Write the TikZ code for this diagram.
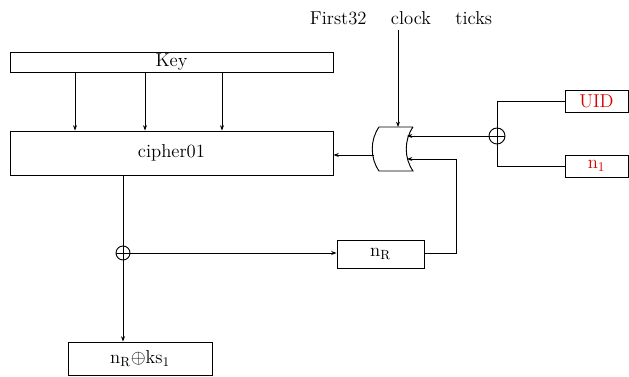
\documentclass[tikz,border=0pt]{standalone}
\usetikzlibrary{arrows.meta,calc}
\begin{document}
\begin{tikzpicture}[x=0.75pt,y=-0.75pt,
  box/.style={draw,line width=0.7pt,inner sep=0pt,font=\fontsize{14}{16}\selectfont},
  arr/.style={line width=0.6pt,-{Stealth[length=4pt,width=3pt]}},
  ln/.style={line width=0.6pt},
  xo/.style={draw,circle,line width=0.7pt,minimum size=#1,inner sep=0pt,
    path picture={\draw[line width=0.7pt] (path picture bounding box.north) -- (path picture bounding box.south)
      (path picture bounding box.west) -- (path picture bounding box.east);}},
  red/.style={text=red!85!black}]
\useasboundingbox (0,0) rectangle (629,377);
% boxes
\node[box,minimum width=323*0.75pt,minimum height=20*0.75pt] (key) at (171.5,62) {Key};
\node[box,minimum width=323*0.75pt,minimum height=44*0.75pt] (cipher) at (171.5,153) {cipher01};
\node[box,minimum width=144*0.75pt,minimum height=33*0.75pt] (out) at (140,358.5) {n$_{\mathrm R}{\oplus}$ks$_1$};
\node[box,minimum width=87*0.75pt,minimum height=28*0.75pt] (nr) at (380.5,254) {n$_{\mathrm R}$};
\node[box,red,minimum width=63*0.75pt,minimum height=22*0.75pt] (uid) at (596.5,101) {UID};
\node[box,red,minimum width=63*0.75pt,minimum height=22*0.75pt] (n1) at (596.5,166) {n$_1$};
\node[xo=14*0.75pt] (x1) at (123,253) {};
\node[xo=16*0.75pt] (x2) at (497,136) {};
\node[font=\fontsize{14}{16}\selectfont] (clk) at (401,18) {First32\ \ \ \ clock\ \ \ \ ticks};
% OR gate (mirrored)
\coordinate (gtl) at (379,127);
\coordinate (gtr) at (413,127);
\coordinate (gbl) at (379,171);
\coordinate (gbr) at (413,171);
\draw[line width=0.7pt] (gtr) -- (gtl) .. controls (370,140) and (370,158) .. (gbl) -- (gbr)
   .. controls (404,158) and (404,140) .. (gtr);
\coordinate (gin1) at (407,136);
\coordinate (gin2) at (407,159);
\coordinate (gtop) at (398,127);
\coordinate (gout) at (374,155);
% key arrows
\coordinate (c1) at (75,0);
\coordinate (c2) at (145,0);
\coordinate (c3) at (222,0);
\foreach \c in {c1,c2,c3}
  \draw[arr] (key.south -| \c) -- (cipher.north -| \c);
% cipher output
\coordinate (c4) at (123,0);
\draw[ln] (cipher.south -| c4) -- (x1.north);
\draw[arr] (x1.south) -- (out.north -| x1);
\draw[arr] (x1.east) -- (nr.west |- x1);
% nR to gate
\coordinate (c5) at (456,0);
\draw[arr] (nr.east |- x1) -| (c5 |- gin2) -- (gin2);
% xor2 to gate
\draw[arr] (x2.west) -- (gin1);
\draw[ln] (uid.west) -| (x2.north);
\draw[ln] (n1.west) -| (x2.south);
% gate out
\draw[arr] (gout) -- (cipher.east |- gout);
% clock
\coordinate (c6) at (398,30);
\draw[arr] (c6) -- (gtop);
\end{tikzpicture}
\end{document}
